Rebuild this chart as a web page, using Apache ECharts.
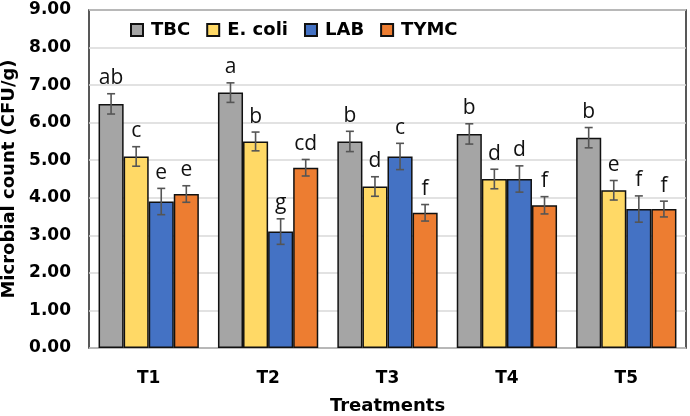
<!DOCTYPE html>
<html><head><meta charset="utf-8">
<script src="https://cdn.jsdelivr.net/npm/echarts@6/dist/echarts.min.js"></script>
<style>html,body{margin:0;padding:0;background:#fff}#c{width:690px;height:416px}</style>
</head><body><div id="c"></div>
<script>
const categories = ['T1','T2','T3','T4','T5'];
const seriesNames = ['TBC','E. coli','LAB','TYMC'];
const tbc = [6.5, 6.8, 5.5, 5.7, 5.6];
const ecoli = [5.1, 5.5, 4.3, 4.5, 4.2];
const lab = [3.9, 3.1, 5.1, 4.5, 3.7];
const tymc = [4.1, 4.8, 3.6, 3.8, 3.7];
const tbcErr = [0.27, 0.26, 0.27, 0.27, 0.27];
const ecoliErr = [0.26, 0.25, 0.26, 0.26, 0.26];
const labErr = [0.35, 0.34, 0.35, 0.35, 0.35];
const tymcErr = [0.22, 0.22, 0.22, 0.23, 0.21];
const tbcLetters = ['ab','a','b','b','b'];
const ecoliLetters = ['c','b','d','d','e'];
const labLetters = ['e','g','c','d','f'];
const tymcLetters = ['e','cd','f','f','f'];
const yTicks = [0,1,2,3,4,5,6,7,8,9];

const values = [tbc, ecoli, lab, tymc];
const errs = [tbcErr, ecoliErr, labErr, tymcErr];
const letters = [tbcLetters, ecoliLetters, labLetters, tymcLetters];
const colors = ['#a5a5a5', '#ffd966', '#4472c4', '#ed7d31'];
const BW = 0.21;
const FONT = '"DejaVu Sans", "Liberation Sans", Arial, sans-serif';

const chart = echarts.init(document.getElementById('c'));
const series = [];
seriesNames.forEach((n, s) => {
  series.push({
    name: n, type: 'bar', data: values[s], barWidth: (BW*100)+'%', barGap: '0%',
    itemStyle: { color: colors[s], borderColor: '#111', borderWidth: 1.5 }
  });
});
seriesNames.forEach((n, s) => {
  series.push({
    type: 'custom', silent: true, z: 5,
    data: values[s].map((v, i) => [i, v, errs[s][i]]),
    renderItem: function (params, api) {
      const i = api.value(0), v = api.value(1), e = api.value(2);
      const letter = letters[s][i];
      const band = api.size([1, 0])[0];
      const bw = band * BW;
      const x = api.coord([i, v])[0] + (s - 1.5) * bw;
      const yTop = api.coord([i, v + e])[1];
      const yBot = api.coord([i, v - e])[1];
      const cap = 4;
      const st = { stroke: '#555555', lineWidth: 1.6 };
      return { type: 'group', children: [
        { type: 'line', shape: { x1: x, y1: yTop, x2: x, y2: yBot }, style: st },
        { type: 'line', shape: { x1: x - cap, y1: yTop, x2: x + cap, y2: yTop }, style: st },
        { type: 'line', shape: { x1: x - cap, y1: yBot, x2: x + cap, y2: yBot }, style: st },
        { type: 'text', x: x, y: yTop - 5, style: { text: letter, fill: '#111', font: '21px "Open Sans", sans-serif', textAlign: 'center', textVerticalAlign: 'bottom' } }
      ]};
    }
  });
});

chart.setOption({
  animation: false,
  textStyle: { fontFamily: FONT },
  grid: { left: 89, right: 4, top: 10, bottom: 68, show: true, borderColor: '#222', borderWidth: 1.5, backgroundColor: 'transparent', outerBoundsMode: 'none', containLabel: false },
  legend: {
    data: seriesNames, left: 130, top: 21, padding: 0, itemWidth: 12, itemHeight: 12, itemGap: 16, icon: 'rect',
    textStyle: { fontWeight: 'bold', fontSize: 18, color: '#000', fontFamily: FONT, padding: [0,0,0,3] }
  },
  xAxis: {
    type: 'category', data: categories,
    axisLine: { show: false }, axisTick: { show: false },
    axisLabel: { margin: 22, fontWeight: 'bold', fontSize: 17, color: '#000', fontFamily: FONT },
    name: 'Treatments', nameLocation: 'middle', nameGap: 49,
    nameTextStyle: { fontWeight: 'bold', fontSize: 18, color: '#000', fontFamily: FONT }
  },
  yAxis: {
    type: 'value', min: 0, max: 9, interval: 1,
    axisLine: { show: false }, axisTick: { show: false },
    axisLabel: { margin: 18, fontWeight: 'bold', fontSize: 17, color: '#000', fontFamily: FONT, formatter: v => v.toFixed(2) },
    splitLine: { lineStyle: { color: '#d9d9d9', width: 1.5 } },
    name: 'Microbial count (CFU/g)', nameLocation: 'middle', nameGap: 69,
    nameTextStyle: { fontWeight: 'bold', fontSize: 18, color: '#000', fontFamily: FONT }
  },
  series: series
});
</script></body></html>
